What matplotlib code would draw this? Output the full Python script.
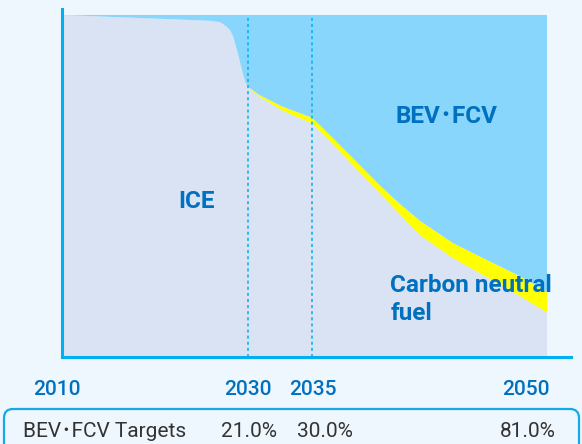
import numpy as np
import matplotlib
matplotlib.use("Agg")
import matplotlib.pyplot as plt
from matplotlib.patches import FancyBboxPatch
from matplotlib.transforms import IdentityTransform

plt.rcParams["font.family"] = ["Roboto", "Noto Sans CJK JP", "DejaVu Sans"]

# Powertrain mix of new vehicles (% share)
years = [2010, 2026, 2026.5, 2027, 2027.7, 2028.1, 2028.4, 2028.9, 2029.35, 2029.7, 2030,
         2030.8, 2032.7, 2035, 2036.2, 2037.4, 2039.3, 2040.6, 2041.9, 2044.0, 2046.1,
         2048.2, 2050]
ice = [100, 98.3, 98.1, 97.9, 96.6, 95.4, 93.7, 88.9, 83.9, 80.5, 79.0,
       76.3, 72.0, 68.3, 62.8, 57.1, 48.0, 41.8, 35.6, 28.9, 23.5, 18.0, 13.0]
fuel = [0, 0, 0, 0, 0, 0, 0, 0, 0, 0, 0,
        0.5, 1.2, 1.7, 1.8, 2.0, 2.3, 3.0, 4.2, 4.4, 5.0, 5.8, 6.0]
bev = [0, 1.7, 1.9, 2.1, 3.4, 4.6, 6.3, 11.1, 16.1, 19.5, 21.0,
       23.2, 26.8, 30.0, 35.4, 40.9, 49.7, 55.2, 60.2, 66.7, 71.5, 76.2, 81.0]

tick_years = [2010, 2030, 2035, 2050]
tick_labels = ["2010", "2030", "2035", "2050"]
marker_years = [2030, 2035]
target_years = [2030, 2035, 2050]
target_values = [21.0, 30.0, 81.0]

BG = "#EFF7FE"
ICE_C = "#DAE3F3"
FUEL_C = "#FFFF00"
BEV_C = "#89D6FD"
LINE_C = "#00B0F0"
TEXT_C = "#0070C0"
DARK = "#333333"

# piecewise-linear time axis: later years get more room
scale_years = [2000, 2010, 2030, 2035, 2050, 2060]
scale_pos = [-93.0, 0.0, 186.0, 250.0, 485.0, 641.7]


def fwd(x):
    return np.interp(x, scale_years, scale_pos)


def inv(p):
    return np.interp(p, scale_pos, scale_years)


fig = plt.figure(figsize=(5.82, 4.44), dpi=100, facecolor=BG)
ax = fig.add_axes([62 / 582, 87 / 444, 509 / 582, 348 / 444])
ax.set_facecolor(BG)
ax.set_xscale("function", functions=(fwd, inv))

ax.stackplot(years, ice, fuel, bev, colors=[ICE_C, FUEL_C, BEV_C],
             linewidth=0, zorder=1)
ax.vlines(marker_years, 0, 100, colors=LINE_C, linestyles=(0, (2, 2)),
          linewidth=1.1, zorder=3)

ax.set_xlim(2010, 2051.53)
ax.set_ylim(0, 101.75)

for side in ("top", "right"):
    ax.spines[side].set_visible(False)
for side in ("left", "bottom"):
    ax.spines[side].set_color(LINE_C)
    ax.spines[side].set_linewidth(2.2)
    ax.spines[side].set_zorder(4)
ax.set_yticks([])
ax.set_xticks([])

# year labels under the axis
label_dx = [-5, 0, 1, 3]
label_ha = ["center", "center", "center", "right"]
for yr, lab, dx, ha in zip(tick_years, tick_labels, label_dx, label_ha):
    ax.annotate(lab, xy=(yr, 0), xycoords=("data", "axes fraction"),
                xytext=(dx, -38), textcoords="offset pixels",
                ha=ha, va="baseline", fontsize=15, fontweight="medium",
                color=TEXT_C, annotation_clip=False)

# area labels
ax.text(2024.5, 43.6, "ICE", ha="center", va="baseline", fontsize=17.5,
        fontweight="bold", color=TEXT_C, zorder=5)
ax.text(2043.6, 68.4, "BEV･FCV", ha="center", va="baseline", fontsize=17.5,
        fontweight="bold", color=TEXT_C, zorder=5)
ax.text(2040.0, 24.3, "Carbon neutral\nfuel", ha="left", va="top", fontsize=17.5,
        fontweight="bold", color=TEXT_C, linespacing=1.3, zorder=5,
        clip_on=False)

# targets row
box = FancyBboxPatch((4, -20), 575, 55, boxstyle="round,pad=0,rounding_size=9",
                     transform=IdentityTransform(), facecolor="none",
                     edgecolor="#14A8EC", linewidth=1.6, zorder=5)
fig.add_artist(box)
fig.text(23 / 582, 7 / 444, "BEV･FCV Targets", ha="left", va="baseline",
         fontsize=15, color=DARK)
target_dx = [1, 13, -19]
for yr, val, dx in zip(target_years, target_values, target_dx):
    ax.annotate(f"{val:.1f}%", xy=(yr, 7 / 444), xycoords=("data", "figure fraction"),
                xytext=(dx, 0), textcoords="offset pixels", ha="center",
                va="baseline", fontsize=15, color=DARK, annotation_clip=False)

fig.savefig("out.png", dpi=100, facecolor=BG)
